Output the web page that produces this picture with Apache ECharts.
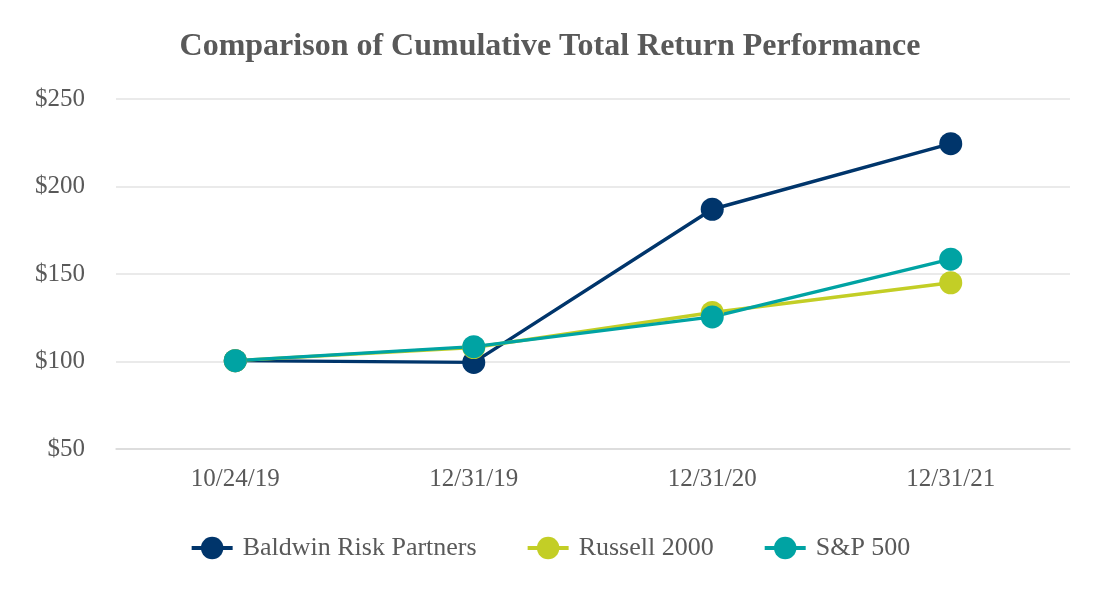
<!DOCTYPE html>
<html><head><meta charset="utf-8">
<script src="https://cdn.jsdelivr.net/npm/echarts@6/dist/echarts.min.js"></script>
<style>html,body{margin:0;padding:0;background:#fff}#c{width:1100px;height:600px}</style>
</head><body><div id="c"></div>
<script>
const categories = ['10/24/19', '12/31/19', '12/31/20', '12/31/21'];
const baldwin = [100.5, 99.5, 187, 224.5];
const russell = [100.5, 108, 128, 145];
const sp500 = [100.5, 108.5, 125.5, 158.5];
const yTicks = [50, 100, 150, 200, 250];

const font = '"Liberation Serif", "Times New Roman", serif';
const chart = echarts.init(document.getElementById('c'));
function mk(name, data, color) {
  return {
    name, type: 'line', data, symbol: 'circle', symbolSize: 23,
    lineStyle: { color, width: 3.5 }, itemStyle: { color },
    emphasis: { disabled: true }, animation: false
  };
}
chart.setOption({
  animation: false,
  title: {
    text: 'Comparison of Cumulative Total Return Performance',
    left: 'center', top: 26,
    textStyle: { fontFamily: font, fontWeight: 'bold', fontSize: 32, color: '#595959' }
  },
  grid: { left: 116, right: 30, top: 99, bottom: 151, containLabel: false },
  legend: {
    top: 530, left: 'center', itemWidth: 41, itemHeight: 28, itemGap: 49,
    lineStyle: { width: 4 },
    textStyle: { fontFamily: font, fontSize: 26, color: '#595959', padding: [0, 0, 0, 5] },
    data: ['Baldwin Risk Partners', 'Russell 2000', 'S&P 500']
  },
  xAxis: {
    type: 'category', data: categories, boundaryGap: true,
    axisLine: { lineStyle: { color: '#d9d9d9', width: 1.5 } },
    axisTick: { alignWithLabel: true, length: 10, lineStyle: { color: '#8c8c8c', width: 1.5 } },
    axisLabel: { fontFamily: font, fontSize: 25, color: '#595959', margin: 18 }
  },
  yAxis: {
    type: 'value', min: yTicks[0], max: yTicks[yTicks.length - 1], interval: 50,
    axisLine: { show: false }, axisTick: { show: false },
    splitLine: { lineStyle: { color: '#e3e3e3', width: 1.5 } },
    axisLabel: { fontFamily: font, fontSize: 25, color: '#595959', margin: 31, formatter: v => '$' + v }
  },
  series: [
    mk('Baldwin Risk Partners', baldwin, '#00356B'),
    mk('Russell 2000', russell, '#C3CE26'),
    mk('S&P 500', sp500, '#00A3A3')
  ]
});
</script></body></html>
